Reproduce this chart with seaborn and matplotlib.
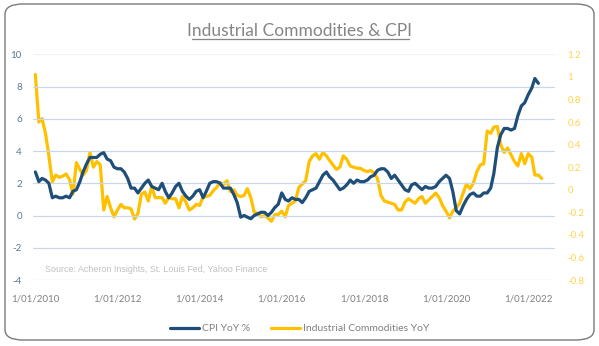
import numpy as np
import pandas as pd
import matplotlib
matplotlib.use("Agg")
import matplotlib.pyplot as plt
import matplotlib.dates as mdates
from matplotlib.patches import FancyBboxPatch
from matplotlib.lines import Line2D
import seaborn as sns

# ---------------- data ----------------
cpi_start = "2010-01-01"
cpi_yoy = [
    2.7, 2.1, 2.3, 2.2, 2.0, 1.1, 1.2, 1.1, 1.1, 1.2, 1.1, 1.5,
    1.6, 2.1, 2.7, 3.2, 3.6, 3.6, 3.6, 3.8, 3.9, 3.5, 3.4, 3.0,
    2.9, 2.9, 2.7, 2.3, 1.7, 1.7, 1.4, 1.7, 2.0, 2.2, 1.8, 1.7,
    1.6, 2.0, 1.5, 1.1, 1.4, 1.8, 2.0, 1.5, 1.2, 1.0, 1.2, 1.5,
    1.6, 1.1, 1.5, 2.0, 2.1, 2.1, 2.0, 1.7, 1.7, 1.7, 1.3, 0.8,
    -0.1, 0.0, -0.1, -0.2, 0.0, 0.1, 0.2, 0.2, 0.0, 0.2, 0.5, 0.7,
    1.4, 1.0, 0.9, 1.1, 1.0, 1.0, 0.8, 1.1, 1.5, 1.6, 1.7, 2.1,
    2.5, 2.7, 2.4, 2.2, 1.9, 1.6, 1.7, 1.9, 2.2, 2.0, 2.2, 2.1,
    2.1, 2.2, 2.4, 2.5, 2.8, 2.9, 2.9, 2.7, 2.3, 2.5, 2.2, 1.9,
    1.6, 1.5, 1.9, 2.0, 1.8, 1.6, 1.8, 1.7, 1.7, 1.8, 2.1, 2.3,
    2.5, 2.3, 1.5, 0.3, 0.1, 0.6, 1.0, 1.3, 1.4, 1.2, 1.2, 1.4,
    1.4, 1.7, 2.6, 4.2, 5.0, 5.4, 5.4, 5.3, 5.4, 6.2, 6.8, 7.0,
    7.5, 7.9, 8.5, 8.2,
]

ind_start = "2010-01-01"
ind_comm_yoy = [
    1.02, 0.60, 0.63, 0.50, 0.30, 0.07, 0.13, 0.11, 0.12, 0.14, 0.09, -0.04,
    0.24, 0.18, 0.13, 0.17, 0.33, 0.20, 0.25, 0.22, -0.18, -0.06, -0.16, -0.24,
    -0.18, -0.13, -0.16, -0.16, -0.17, -0.26, -0.21, -0.04, -0.02, -0.10, 0.03, -0.07,
    -0.07, -0.07, -0.12, -0.07, -0.08, -0.08, -0.16, -0.06, -0.11, -0.18, -0.16, -0.13,
    -0.14, -0.06, -0.06, -0.05, -0.01, 0.02, 0.065, 0.045, 0.08, -0.015, 0.00, -0.05,
    -0.06, -0.05, 0.01, -0.07, -0.20, -0.21, -0.24, -0.23, -0.25, -0.28, -0.22, -0.22,
    -0.19, -0.24, -0.14, -0.12, -0.10, 0.02, 0.05, 0.08, 0.25, 0.30, 0.32, 0.27,
    0.33, 0.30, 0.26, 0.22, 0.18, 0.20, 0.30, 0.27, 0.21, 0.20, 0.19, 0.19,
    0.17, 0.16, 0.17, 0.15, 0.10, -0.05, -0.10, -0.11, -0.12, -0.13, -0.18, -0.18,
    -0.11, -0.08, -0.10, -0.12, -0.08, -0.06, -0.12, -0.09, -0.06, -0.03, -0.07, -0.14,
    -0.19, -0.25, -0.19, -0.16, -0.12, -0.03, 0.05, 0.01, 0.06, 0.16, 0.22, 0.23,
    0.52, 0.50, 0.555, 0.56, 0.40, 0.33, 0.37, 0.31, 0.25, 0.21, 0.32, 0.23,
    0.32, 0.29, 0.13, 0.13, 0.10,
]

x_tick_dates = ["2010-01-01", "2012-01-01", "2014-01-01", "2016-01-01",
                "2018-01-01", "2020-01-01", "2022-01-01"]
x_tick_labels = ["1/01/2010", "1/01/2012", "1/01/2014", "1/01/2016",
                 "1/01/2018", "1/01/2020", "1/01/2022"]
left_ticks = [-4, -2, 0, 2, 4, 6, 8, 10]
right_ticks = [-0.8, -0.6, -0.4, -0.2, 0, 0.2, 0.4, 0.6, 0.8, 1, 1.2]
right_tick_labels = ["-0.8", "-0.6", "-0.4", "-0.2", "0", "0.2", "0.4",
                     "0.6", "0.8", "1", "1.2"]

cpi_df = pd.DataFrame({
    "date": pd.date_range(cpi_start, periods=len(cpi_yoy), freq="MS"),
    "value": cpi_yoy,
})
ind_df = pd.DataFrame({
    "date": pd.date_range(ind_start, periods=len(ind_comm_yoy), freq="MS"),
    "value": ind_comm_yoy,
})

# ---------------- style ----------------
sns.set_theme(style="white")
plt.rcParams["font.family"] = ["Lato", "DejaVu Sans"]

BLUE = "#1f4e79"
YELLOW = "#ffc000"
GRID = "#c8d8ea"
GRAY = "#808080"

fig = plt.figure(figsize=(5.99, 3.46), dpi=100)
ax = fig.add_axes([33 / 599, 1 - 280 / 346, (555 - 33) / 599, (280 - 54.3) / 346])
ax2 = ax.twinx()

sns.lineplot(data=cpi_df, x="date", y="value", ax=ax, color=BLUE,
             linewidth=2.3, label="CPI YoY %", legend=False)
sns.lineplot(data=ind_df, x="date", y="value", ax=ax2, color=YELLOW,
             linewidth=2.3, label="Industrial Commodities YoY", legend=False)

ax.set_zorder(ax2.get_zorder() + 1)
ax.patch.set_visible(False)

ax.set_ylim(-4, 10)
ax.set_yticks(left_ticks)
ax.set_yticklabels([str(t) for t in left_ticks])
ax2.set_ylim(-0.8, 1.2)
ax2.set_yticks(right_ticks)
ax2.set_yticklabels(right_tick_labels)

ax.set_xlim(pd.Timestamp("2009-12-11"), pd.Timestamp("2022-08-27"))
ax.set_xticks([pd.Timestamp(d) for d in x_tick_dates])
ax.set_xticklabels(x_tick_labels)

ax.set_xlabel("")
ax.set_ylabel("")
ax2.set_ylabel("")
ax2.set_xlabel("")

for a in (ax, ax2):
    for s in a.spines.values():
        s.set_visible(False)

ax.grid(axis="y", color=GRID, linewidth=0.9)
ax.grid(axis="x", visible=False)
ax2.grid(False)
ax.get_ygridlines()[-1].set_color("#eef2f6")

ax.tick_params(axis="y", length=0, pad=8, labelsize=7, labelcolor="#5a7896")
ax.tick_params(axis="x", length=0, pad=10.5, labelsize=7, labelcolor=GRAY)
ax2.tick_params(axis="y", length=0, pad=9, labelsize=7, labelcolor="#ffd34d")

# source text
ax.text(45 / 599, 1 - 269 / 346, "Source: Acheron Insights, St. Louis Fed, Yahoo Finance",
        transform=fig.transFigure, fontsize=6.4, color="#c0c0c0",
        family=["Liberation Sans", "DejaVu Sans"], va="center", ha="left")

# title with underline
fig.text(0.5, 1 - 30.5 / 346, "Industrial Commodities & CPI", ha="center", va="center",
         fontsize=12.5, color="#858585", fontweight="normal")
fig.add_artist(Line2D([192 / 599, 409 / 599], [1 - 39 / 346, 1 - 39 / 346],
                      transform=fig.transFigure, color="#858585", linewidth=0.9))

# legend
handles = [Line2D([], [], color=BLUE, linewidth=2.3),
           Line2D([], [], color=YELLOW, linewidth=2.3)]
leg = fig.legend(handles, ["CPI YoY %", "Industrial Commodities YoY"],
                 loc="center", bbox_to_anchor=(0.5, 1 - 328.5 / 346), ncol=2,
                 frameon=False, fontsize=7.5, handlelength=2.8, handletextpad=0.25,
                 columnspacing=2.0, labelcolor=GRAY)

# rounded border
fig.add_artist(FancyBboxPatch((5 / 599, 6 / 346), 589 / 599, 336 / 346,
                              boxstyle="round,pad=0,rounding_size=0.03",
                              transform=fig.transFigure, facecolor="none",
                              edgecolor="#7a7a7a", linewidth=1.0))

fig.savefig("out.png", dpi=100)
